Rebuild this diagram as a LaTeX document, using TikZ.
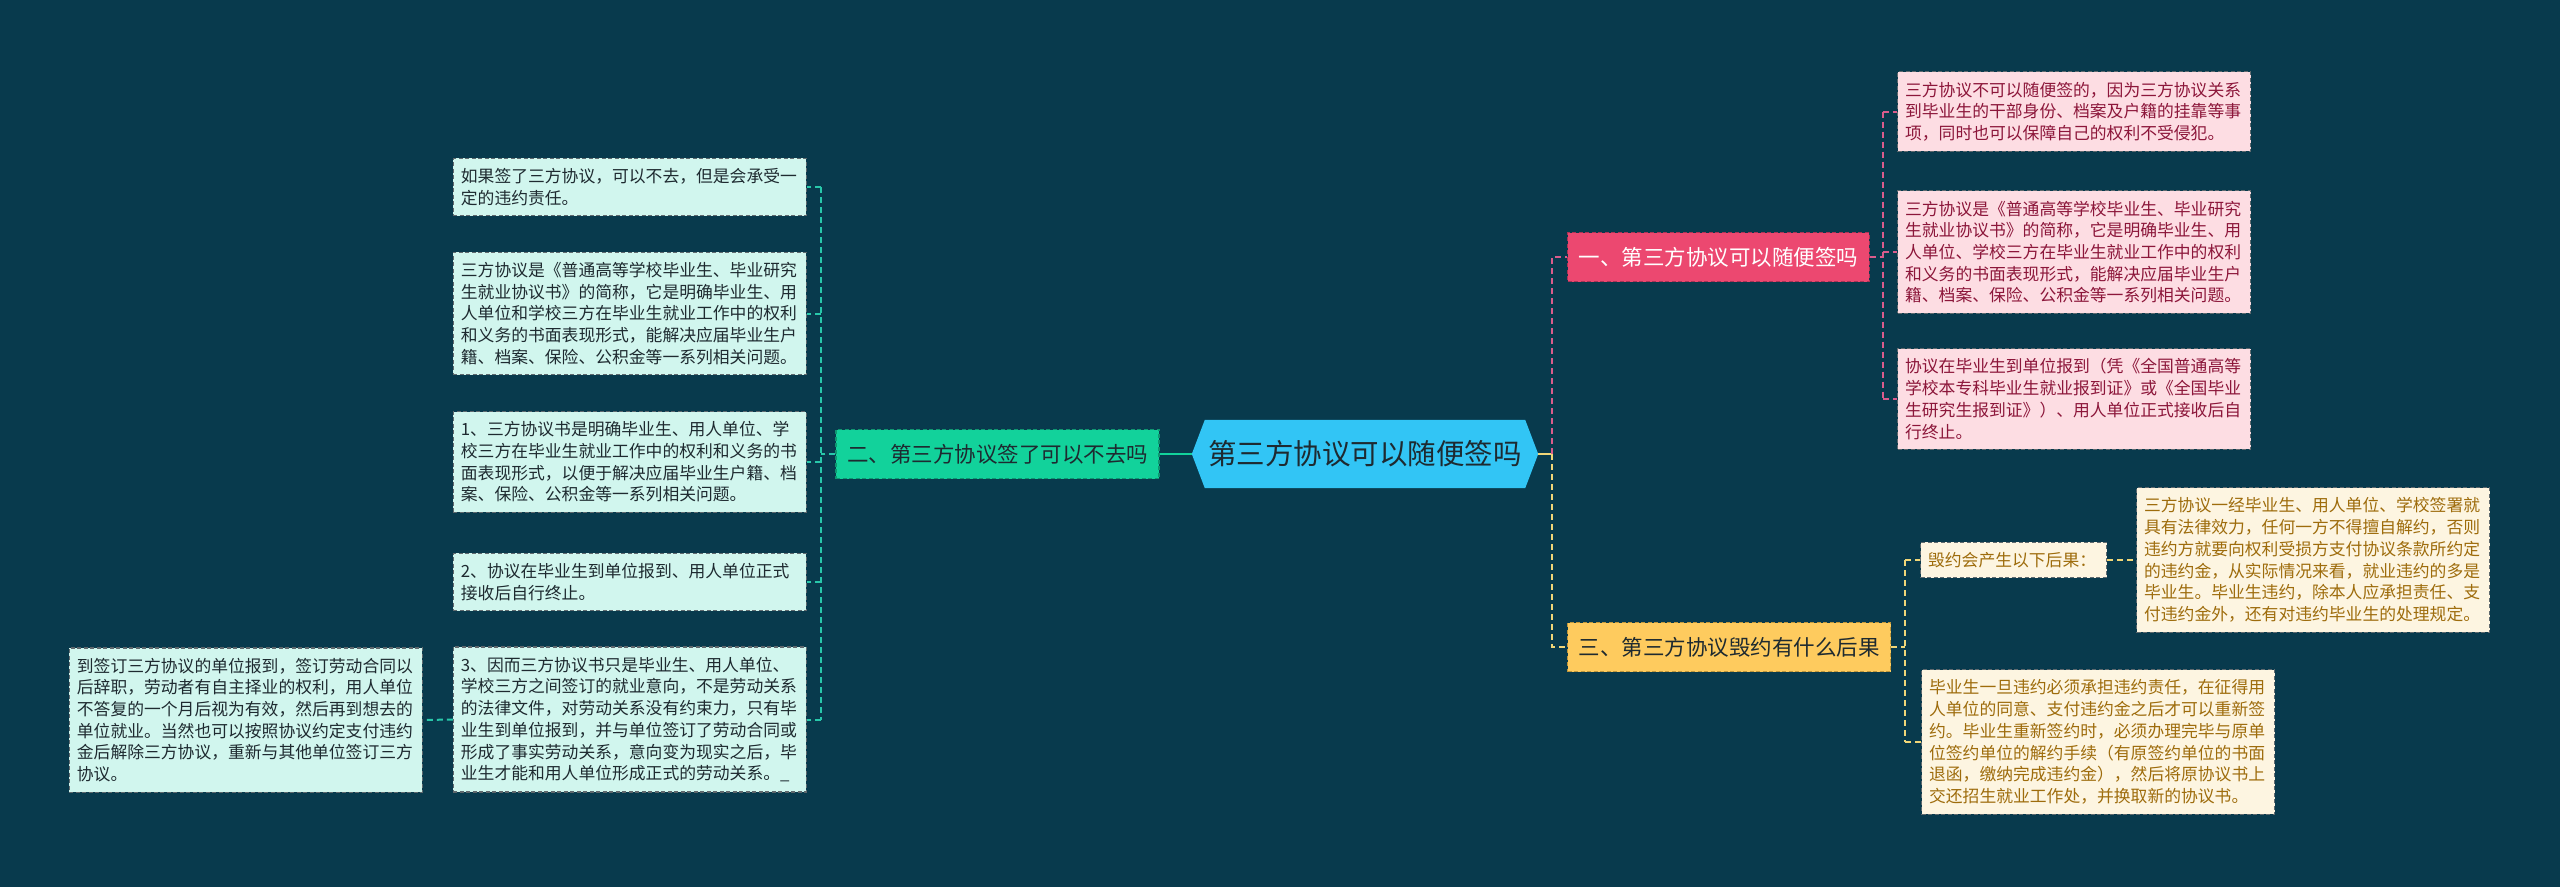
\documentclass[tikz,border=0pt]{standalone}
\usepackage{fontspec}
\setmainfont{Noto Sans CJK SC}
\usepackage{tikz}
\usetikzlibrary{calc}

\definecolor{bgblue}{RGB}{8,58,77}
\definecolor{rootfill}{RGB}{50,197,245}
\definecolor{greenbr}{RGB}{18,210,155}
\definecolor{greenbrd}{RGB}{14,150,112}
\definecolor{pinkbr}{RGB}{236,72,112}
\definecolor{pinkbrd}{RGB}{170,50,85}
\definecolor{goldbr}{RGB}{254,203,94}
\definecolor{goldbrd}{RGB}{190,150,60}
\definecolor{mintfill}{RGB}{209,246,238}
\definecolor{pinkfill}{RGB}{253,221,227}
\definecolor{creamfill}{RGB}{253,245,225}
\definecolor{leafline}{RGB}{95,105,110}
\definecolor{darktext}{RGB}{30,42,48}
\definecolor{pinktext}{RGB}{140,22,58}
\definecolor{goldtext}{RGB}{158,108,12}
\definecolor{tealcon}{RGB}{40,200,170}
\definecolor{pinkcon}{RGB}{218,92,140}
\definecolor{goldcon}{RGB}{240,214,120}

\pgfdeclarelayer{background}
\pgfsetlayers{background,main}

\begin{document}
\begin{tikzpicture}[x=1pt,y=-1pt,
  rootbox/.style={minimum width=320pt,minimum height=68pt,inner sep=0pt,
    text=darktext,font={\fontsize{28.5}{34}\selectfont}},
  branch/.style={minimum height=49pt,inner xsep=11pt,inner ysep=0pt,
    line width=1.2pt,dash pattern=on 4pt off 2.5pt,
    font={\fontsize{21.5}{26}\selectfont}},
  leaf/.style={draw=leafline,line width=1.2pt,dash pattern=on 4pt off 2.5pt,
    text width=338pt,align=left,inner xsep=7.5pt,inner ysep=10pt,
    font={\fontsize{16.8}{21.7}\selectfont}},
  mintleaf/.style={leaf,fill=mintfill,text=darktext},
  pinkleaf/.style={leaf,fill=pinkfill,text=pinktext},
  goldleaf/.style={leaf,fill=creamfill,text=goldtext},
  conline/.style={line width=2pt,dash pattern=on 6pt off 4pt},
  tealline/.style={conline,draw=tealcon},
  pinkline/.style={conline,draw=pinkcon},
  goldline/.style={conline,draw=goldcon}]
\begin{pgfonlayer}{background}
\fill[bgblue] (0,0) rectangle (2560,887);
\end{pgfonlayer}
\useasboundingbox (0,0) rectangle (2560,887);

% centre
\node[rootbox] (root) at (1365,454) {第三方协议可以随便签吗};
\begin{pgfonlayer}{background}
\fill[rootfill] ([xshift=-13pt]root.west) -- (root.north west) -- (root.north east)
  -- ([xshift=13pt]root.east) -- (root.south east) -- (root.south west) -- cycle;
\end{pgfonlayer}

% branches
\node[branch,fill=greenbr,draw=greenbrd,text=darktext] (b2) at (997.5,454) {二、第三方协议签了可以不去吗};
\node[branch,fill=pinkbr,draw=pinkbrd,text=white,anchor=west] (b1) at (1567,257) {一、第三方协议可以随便签吗};
\node[branch,fill=goldbr,draw=goldbrd,text=darktext,anchor=west] (b3) at (1567,647) {三、第三方协议毁约有什么后果};

\coordinate (lsp) at (821,454);
\coordinate (rsp) at (1552,454);
\coordinate (psp) at (1883,257);
\coordinate (gsp) at (1905,647);

% left leaves
\node[mintleaf,anchor=east] (l1) at (807,187) {如果签了三方协议，可以不去，但是会承受一\\定的违约责任。};
\node[mintleaf,anchor=east] (l2) at (807,313.5) {三方协议是《普通高等学校毕业生、毕业研究\\生就业协议书》的简称，它是明确毕业生、用\\人单位和学校三方在毕业生就业工作中的权利\\和义务的书面表现形式，能解决应届毕业生户\\籍、档案、保险、公积金等一系列相关问题。};
\node[mintleaf,anchor=east] (l3) at (807,462) {1、三方协议书是明确毕业生、用人单位、学\\校三方在毕业生就业工作中的权利和义务的书\\面表现形式，以便于解决应届毕业生户籍、档\\案、保险、公积金等一系列相关问题。};
\node[mintleaf,anchor=east] (l4) at (807,582) {2、协议在毕业生到单位报到、用人单位正式\\接收后自行终止。};
\node[mintleaf,anchor=east] (l5) at (807,719.5) {3、因而三方协议书只是毕业生、用人单位、\\学校三方之间签订的就业意向，不是劳动关系\\的法律文件，对劳动关系没有约束力，只有毕\\业生到单位报到，并与单位签订了劳动合同或\\形成了事实劳动关系，意向变为现实之后，毕\\业生才能和用人单位形成正式的劳动关系。\_};
\node[mintleaf,anchor=east] (l6) at (423,720) {到签订三方协议的单位报到，签订劳动合同以\\后辞职，劳动者有自主择业的权利，用人单位\\不答复的一个月后视为有效，然后再到想去的\\单位就业。当然也可以按照协议约定支付违约\\金后解除三方协议，重新与其他单位签订三方\\协议。};

% right leaves
\node[pinkleaf,anchor=west] (ra) at (1897,111.5) {三方协议不可以随便签的，因为三方协议关系\\到毕业生的干部身份、档案及户籍的挂靠等事\\项，同时也可以保障自己的权利不受侵犯。};
\node[pinkleaf,anchor=west] (rb) at (1897,252) {三方协议是《普通高等学校毕业生、毕业研究\\生就业协议书》的简称，它是明确毕业生、用\\人单位、学校三方在毕业生就业工作中的权利\\和义务的书面表现形式，能解决应届毕业生户\\籍、档案、保险、公积金等一系列相关问题。};
\node[pinkleaf,anchor=west] (rc) at (1897,399) {协议在毕业生到单位报到（凭《全国普通高等\\学校本专科毕业生就业报到证》或《全国毕业\\生研究生报到证》）、用人单位正式接收后自\\行终止。};
\node[goldleaf,text width=171pt,anchor=west] (cd) at (1920,560) {毁约会产生以下后果：};
\node[goldleaf,anchor=west] (ce) at (2136,560) {三方协议一经毕业生、用人单位、学校签署就\\具有法律效力，任何一方不得擅自解约，否则\\违约方就要向权利受损方支付协议条款所约定\\的违约金，从实际情况来看，就业违约的多是\\毕业生。毕业生违约，除本人应承担责任、支\\付违约金外，还有对违约毕业生的处理规定。};
\node[goldleaf,anchor=west] (cf) at (1921,742) {毕业生一旦违约必须承担违约责任，在征得用\\人单位的同意、支付违约金之后才可以重新签\\约。毕业生重新签约时，必须办理完毕与原单\\位签约单位的解约手续（有原签约单位的书面\\退函，缴纳完成违约金），然后将原协议书上\\交还招生就业工作处，并换取新的协议书。};

% connectors
\draw[line width=2pt,draw=greenbr] ([xshift=-13pt]root.west) -- (b2.east);
\draw[tealline] (b2.west) -- (lsp);
\draw[tealline] (lsp |- l1.east) -- (lsp |- l5.east);
\foreach \n in {l1,l2,l3,l4,l5}
  \draw[tealline] (lsp |- \n.east) -- (\n.east);
\draw[tealline] (l5.west) -- (l6.east);

\draw[line width=2pt,draw=goldcon] ([xshift=13pt]root.east) -- (rsp);
\draw[pinkline] (rsp) -- (rsp |- b1.west) -- (b1.west);
\draw[goldline] (rsp) -- (rsp |- b3.west) -- (b3.west);

\draw[pinkline] (b1.east) -- (psp);
\draw[pinkline] (psp |- ra.west) -- (psp |- rc.west);
\foreach \n in {ra,rb,rc}
  \draw[pinkline] (psp |- \n.west) -- (\n.west);

\draw[goldline] (b3.east) -- (gsp);
\draw[goldline] (gsp |- cd.west) -- (gsp |- cf.west);
\foreach \n in {cd,cf}
  \draw[goldline] (gsp |- \n.west) -- (\n.west);
\draw[goldline] (cd.east) -- (ce.west);
\end{tikzpicture}
\end{document}
